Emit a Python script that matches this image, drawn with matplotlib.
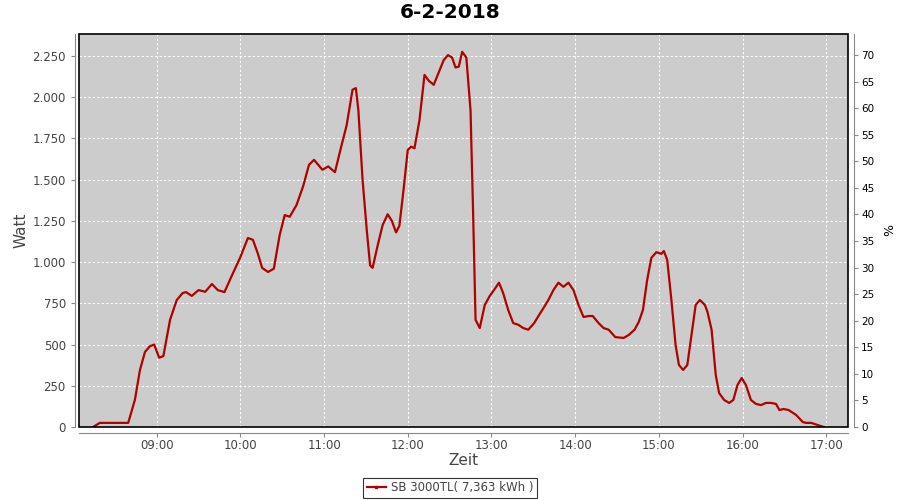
import numpy as np
import matplotlib.pyplot as plt
from matplotlib.ticker import FuncFormatter, MultipleLocator
from matplotlib.patches import Rectangle

# time in hours, power in watt
hours = [8.24, 8.32, 8.40, 8.55, 8.66, 8.74, 8.80, 8.86, 8.92, 8.97, 9.03, 9.08,
         9.16, 9.24, 9.31, 9.35, 9.42, 9.50, 9.58, 9.66, 9.73, 9.81, 9.90, 10.00,
         10.09, 10.15, 10.21, 10.26, 10.33, 10.40, 10.47, 10.53, 10.59, 10.67, 10.75, 10.82,
         10.88, 10.93, 10.98, 11.05, 11.13, 11.20, 11.27, 11.34, 11.38, 11.41, 11.46, 11.51,
         11.55, 11.58, 11.64, 11.70, 11.76, 11.81, 11.86, 11.90, 11.95, 12.00, 12.04, 12.08,
         12.14, 12.20, 12.25, 12.31, 12.37, 12.43, 12.48, 12.53, 12.57, 12.61, 12.65, 12.70,
         12.75, 12.78, 12.81, 12.86, 12.92, 12.98, 13.03, 13.09, 13.14, 13.20, 13.26, 13.32,
         13.38, 13.44, 13.51, 13.57, 13.62, 13.68, 13.74, 13.80, 13.86, 13.92, 13.98, 14.04,
         14.10, 14.16, 14.21, 14.28, 14.34, 14.40, 14.48, 14.58, 14.64, 14.71, 14.76, 14.81,
         14.86, 14.91, 14.97, 15.03, 15.06, 15.10, 15.15, 15.20, 15.24, 15.29, 15.34, 15.39,
         15.44, 15.49, 15.55, 15.58, 15.63, 15.68, 15.72, 15.78, 15.84, 15.89, 15.94, 15.99,
         16.04, 16.10, 16.16, 16.22, 16.28, 16.34, 16.40, 16.44, 16.49, 16.55, 16.64, 16.72,
         16.76, 16.82, 16.97]
watt = [0, 25, 25, 25, 25, 165, 345, 455, 490, 500, 420, 430,
        650, 770, 812, 818, 795, 830, 820, 867, 830, 818, 920, 1030,
        1146, 1135, 1050, 965, 940, 960, 1165, 1285, 1275, 1345, 1460, 1590,
        1620, 1590, 1560, 1580, 1545, 1690, 1830, 2045, 2055, 1920, 1500, 1195,
        980, 965, 1100, 1225, 1290, 1250, 1180, 1220, 1440, 1680, 1700, 1690,
        1860, 2135, 2100, 2075, 2150, 2225, 2255, 2240, 2180, 2185, 2275, 2240,
        1920, 1315, 650, 600, 740, 795, 830, 875, 812, 710, 630, 620,
        600, 590, 630, 680, 720, 770, 830, 875, 850, 875, 830, 740,
        667, 673, 673, 630, 600, 590, 545, 540, 558, 590, 637, 710,
        890, 1025, 1060, 1050, 1067, 1013, 770, 497, 376, 346, 376, 558,
        740, 770, 740, 700, 590, 315, 206, 164, 146, 164, 255, 297,
        255, 164, 140, 133, 146, 146, 140, 103, 109, 103, 73, 30,
        25, 25, 0]

title = "6-2-2018"
series_name = "SB 3000TL( 7,363 kWh )"
hour_ticks = [9, 10, 11, 12, 13, 14, 15, 16, 17]

watt_max = 2383
pct_max = 73.95
label_gray = "#444444"
axis_gray = "#888888"

fig = plt.figure(figsize=(9, 5), dpi=100)
ax = fig.add_axes([79 / 900, 73 / 500, 769 / 900, 393 / 500])
ax.set_facecolor("#cccccc")

ax.plot(hours, watt, color="#b00000", lw=1.6, zorder=3)

ax.set_xlim(8.072, 17.26)
ax.set_ylim(0, watt_max)
ax.set_xticks(hour_ticks)
ax.set_xticklabels([f"{h:02d}:00" for h in hour_ticks])
ax.yaxis.set_major_locator(MultipleLocator(250))
ax.yaxis.set_major_formatter(FuncFormatter(lambda v, p: f"{int(v):,}".replace(",", ".")))

ax.grid(True, color="white", ls=(0, (2, 2)), lw=0.8)
ax.set_axisbelow(True)

for s in ["top", "right"]:
    ax.spines[s].set_visible(False)
ax.spines["left"].set_position(("outward", 3))
ax.spines["bottom"].set_position(("outward", 4))
ax.spines["left"].set_color(axis_gray)
ax.spines["bottom"].set_color(axis_gray)
ax.tick_params(axis="both", colors=axis_gray, labelcolor=label_gray, labelsize=8.5,
               length=3, width=0.8)
ax.tick_params(axis="x", pad=1.5)

# plot border
ax.add_patch(Rectangle((0, 0), 1, 1, transform=ax.transAxes, fill=False,
                       edgecolor="black", lw=1.2, zorder=5, clip_on=False))

ax.set_xlabel("Zeit", fontsize=11, color=label_gray, labelpad=1)
ax.set_ylabel("Watt", fontsize=11, color=label_gray, labelpad=3)
fig.text(0.5, 1 - 13 / 500, title, fontsize=14.5, fontweight="bold",
         ha="center", va="center")

ax2 = ax.twinx()
ax2.set_ylim(0, pct_max)
ax2.yaxis.set_major_locator(MultipleLocator(5))
for s in ["top", "left", "bottom"]:
    ax2.spines[s].set_visible(False)
ax2.spines["right"].set_position(("outward", 4))
ax2.spines["right"].set_color(axis_gray)
ax2.tick_params(axis="y", colors=axis_gray, labelcolor="black", labelsize=7.5,
                length=3, width=0.8, pad=2.5)
ax2.set_ylabel("%", fontsize=9, labelpad=6)

leg = fig.legend([plt.Line2D([], [], color="#b00000", lw=1.6, marker="s", markersize=2)],
                 [series_name], loc="center", bbox_to_anchor=(450 / 900, 1 - 488 / 500),
                 frameon=True, fancybox=False, fontsize=8.5, handlelength=1.6,
                 borderpad=0.3, handletextpad=0.4)
leg.get_frame().set_edgecolor("black")
leg.get_frame().set_linewidth(0.8)
for t in leg.get_texts():
    t.set_color(label_gray)

fig.savefig("out.png", dpi=100)
